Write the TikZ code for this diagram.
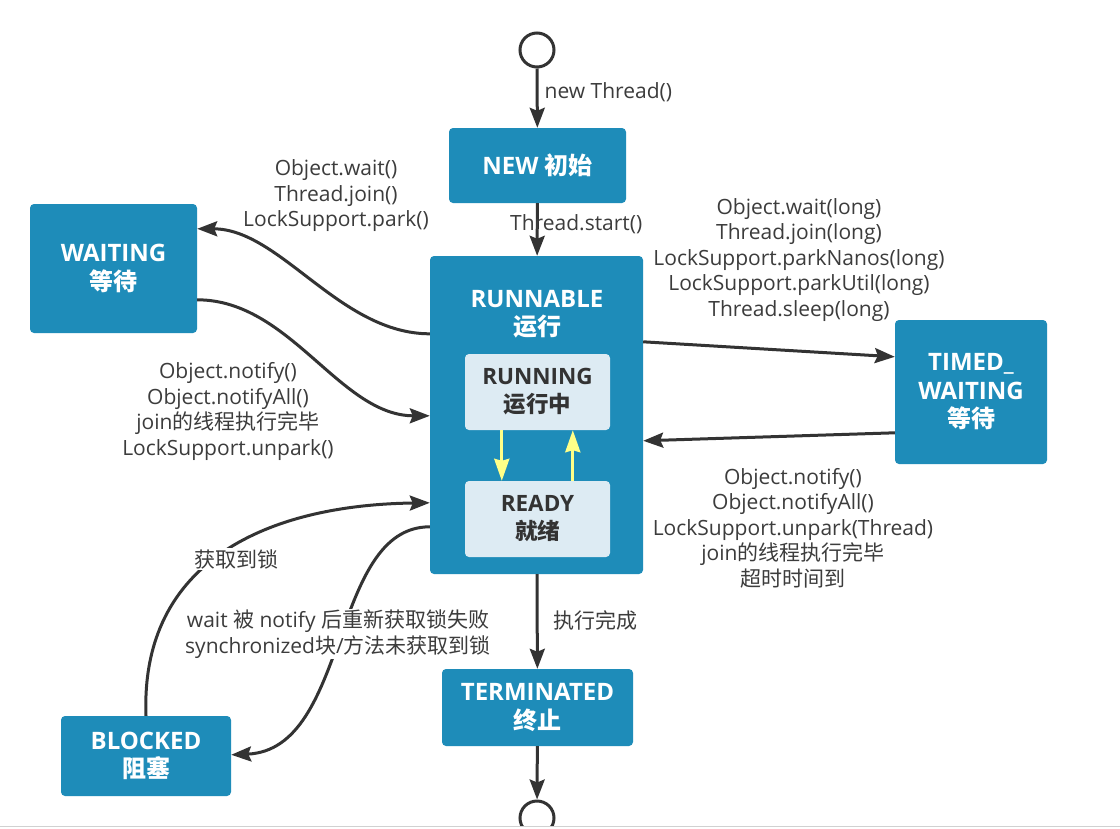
\documentclass[tikz,border=0pt]{standalone}
\usepackage{fontspec}
\setmainfont{Open Sans}
\newfontfamily\cjk{Noto Sans CJK SC}
\usetikzlibrary{arrows.meta,calc}
\newcommand\zh[1]{{\cjk #1}}
\definecolor{boxblue}{RGB}{30,140,185}
\definecolor{innerbg}{RGB}{221,235,243}
\definecolor{ink}{RGB}{51,51,51}
\definecolor{txt}{RGB}{60,60,60}
\definecolor{yel}{RGB}{255,255,136}
\begin{document}
\begin{tikzpicture}[x=1pt,y=-1pt,
 state/.style={fill=boxblue, rounded corners=4pt, text=white, align=center, font=\fontsize{24}{28.5}\selectfont\bfseries, inner sep=0pt},
 innerbox/.style={fill=innerbg, rounded corners=4pt, text=ink, align=center, font=\fontsize{22.5}{28}\selectfont\bfseries, inner sep=0pt, minimum width=145pt, minimum height=76pt},
 endpt/.style={circle, draw=ink, line width=3pt, fill=white, minimum size=34pt, inner sep=0pt},
 conn/.style={draw=ink, line width=3pt, -{Stealth[length=20pt,width=15pt,inset=3pt]}},
 yconn/.style={draw=yel, line width=3pt, -{Stealth[length=22pt,width=15pt,inset=2pt]}},
 lbl/.style={text=txt, align=center, font=\fontsize{21}{25.5}\selectfont, inner sep=1pt},
]
\useasboundingbox (0,0) rectangle (1120,828);
\fill[white] (0,0) rectangle (1120,828);

% states
\node[endpt] (start) at (537,50) {};
\node[state, minimum width=177pt, minimum height=75pt] (new) at (537.5,165.5) {NEW \zh{初始}};
\node[state, minimum width=213pt, minimum height=318pt] (runnable) at (536.5,415) {};
\node[text=white, align=center, font=\fontsize{24}{28.5}\selectfont\bfseries, inner sep=0pt] (runnabletxt) at (537,314) {RUNNABLE\\\zh{运行}};
\node[innerbox] (running) at (537.5,392) {RUNNING\\\zh{运行中}};
\node[innerbox] (ready) at (537.5,519) {READY\\\zh{就绪}};
\node[state, minimum width=167pt, minimum height=129pt] (waiting) at (113.5,268.5) {WAITING\\\zh{等待}};
\node[state, minimum width=152pt, minimum height=144pt] (timed) at (971,392) {TIMED\_\\WAITING\\\zh{等待}};
\node[state, minimum width=170pt, minimum height=80pt] (blocked) at (146,756) {BLOCKED\\\zh{阻塞}};
\node[state, minimum width=191pt, minimum height=77pt] (term) at (537.5,707.5) {TERMINATED\\\zh{终止}};
\begin{scope}
\clip (0,0) rectangle (1120,825.5);
\node[endpt] (endc) at (537,818) {};
\end{scope}

% connectors
\draw[conn] (start) -- (new) node[lbl, pos=0.4, anchor=west, xshift=5pt] (lblnew) {new Thread()};
\draw[conn] (new) -- (runnable) node[lbl, pos=0.4, xshift=39pt] (lblstart) {Thread.start()};

\draw[conn] ($(runnable.north west)+(0,78)$) .. controls ($(runnable.north west)+(-90,78)$) and ($(waiting.north east)+(83,25)$) .. ($(waiting.north east)+(0,25)$);
\node[lbl] (lblwait) at (336,196) {Object.wait()\\Thread.join()\\LockSupport.park()};

\draw[conn] ($(waiting.north east)+(0,96)$) .. controls ($(waiting.north east)+(93,96)$) and ($(runnable.north west)+(-90,160)$) .. ($(runnable.north west)+(0,160)$);
\node[lbl] (lblnotify) at (228,411.5) {Object.notify()\\Object.notifyAll()\\join\zh{的线程执行完毕}\\LockSupport.unpark()};

\draw[conn] ($(runnable.north east)+(0,86)$) -- ($(timed.north west)+(0,37)$);
\node[lbl] (lbltimed) at (799,260) {Object.wait(long)\\Thread.join(long)\\LockSupport.parkNanos(long)\\LockSupport.parkUtil(long)\\Thread.sleep(long)};

\draw[conn] ($(timed.north west)+(0,113)$) -- ($(runnable.north east)+(0,185)$);
\node[lbl] (lbltimedback) at (793,528) {Object.notify()\\Object.notifyAll()\\LockSupport.unpark(Thread)\\join\zh{的线程执行完毕}\\\zh{超时时间到}};

\draw[conn] (blocked.north) .. controls ($(blocked.north)+(-6,-156)$) and ($(runnable.north west)+(-160,249)$) .. ($(runnable.north west)+(0,247)$);
\node[lbl, fill=white] (lbllock) at (236,559) {\zh{获取到锁}};

\draw[conn] ($(runnable.north west)+(0,271)$) .. controls ($(runnable.north west)+(-100,271)$) and ($(blocked.north east)+(119,34)$) .. ($(blocked.north east)+(0,39)$);
\node[lbl, fill=white] (lblblock) at (338,634) {wait \zh{被} notify \zh{后重新获取锁失败}\\synchronized\zh{块}/\zh{方法未获取到锁}};

\draw[conn] (runnable) -- (term) node[lbl, pos=0.49, anchor=west, xshift=14pt] (lbldone) {\zh{执行完成}};
\draw[conn] (term) -- (endc);

% inner transitions
\draw[yconn] ($(running.south west)+(37,0)$) -- ($(ready.north west)+(37,0)$);
\draw[yconn] ($(ready.north west)+(108,0)$) -- ($(running.south west)+(108,0)$);

% bottom border line
\draw[line width=1.5pt, black!18] (0,826.5) -- (1120,826.5);
\end{tikzpicture}
\end{document}
